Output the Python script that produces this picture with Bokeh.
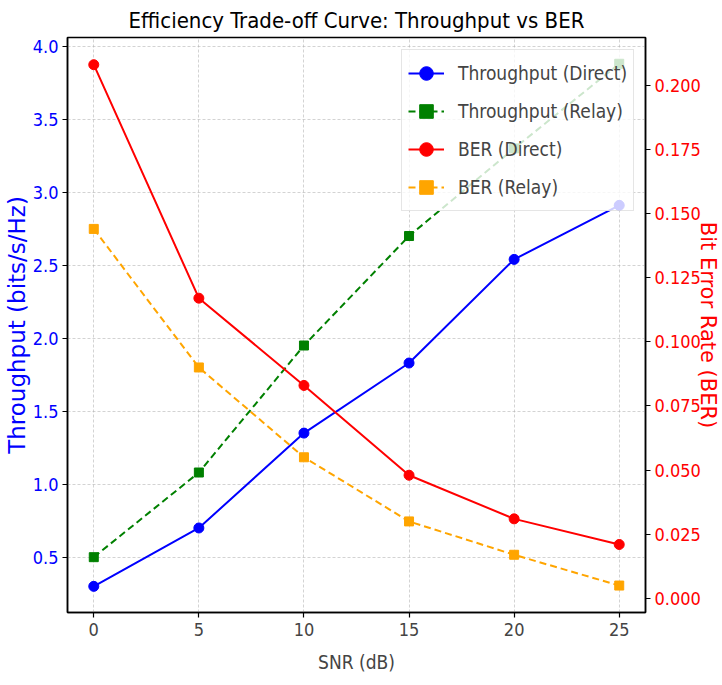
from bokeh.plotting import figure
from bokeh.models import (Range1d, LinearAxis, FixedTicker, NumeralTickFormatter,
                          Legend, LegendItem)
from bokeh.embed import file_html
from bokeh.resources import INLINE

snr = [0, 5, 10, 15, 20, 25]
thr_direct = [0.30, 0.70, 1.35, 1.83, 2.54, 2.91]
thr_relay = [0.50, 1.08, 1.95, 2.70, 3.30, 3.88]
ber_direct = [0.208, 0.117, 0.083, 0.048, 0.031, 0.021]
ber_relay = [0.144, 0.090, 0.055, 0.030, 0.017, 0.005]

left_ticks = [0.5, 1.0, 1.5, 2.0, 2.5, 3.0, 3.5, 4.0]
right_ticks = [0.0, 0.025, 0.05, 0.075, 0.1, 0.125, 0.15, 0.175, 0.2]
x_ticks = [0, 5, 10, 15, 20, 25]

FONT = "DejaVu Sans Condensed, DejaVu Sans"
VFONT = "DejaVu Sans"

p = figure(width=722, height=685, output_backend="svg", toolbar_location=None,
           x_range=Range1d(-1.25, 26.25), y_range=Range1d(0.121, 4.06),
           min_border_left=67, min_border_right=76, min_border_top=37, min_border_bottom=73)

p.title.text = "Efficiency Trade-off Curve: Throughput vs BER"
p.title.align = "center"
p.title.offset = -9
p.title.text_font = FONT
p.title.text_font_size = "22px"
p.title.text_font_style = "normal"
p.title.text_color = "black"

p.extra_y_ranges = {"ber": Range1d(-0.0055, 0.2186)}

p.outline_line_color = "black"
p.outline_line_width = 1.5
p.outline_line_alpha = 1.0

# Left axis
yax = p.yaxis[0]
yax.ticker = FixedTicker(ticks=left_ticks)
yax.formatter = NumeralTickFormatter(format="0.0")
yax.axis_label = "Throughput (bits/s/Hz)"
yax.axis_label_text_color = "blue"
yax.axis_label_text_font = VFONT
yax.axis_label_text_font_size = "23px"
yax.axis_label_text_font_style = "normal"
yax.axis_label_standoff = 0
yax.major_label_text_color = "blue"
yax.major_label_text_font = FONT
yax.major_label_text_font_size = "18px"
yax.major_label_standoff = 4

# X axis
xax = p.xaxis[0]
xax.ticker = FixedTicker(ticks=x_ticks)
xax.axis_label = "SNR (dB)"
xax.axis_label_text_font = FONT
xax.axis_label_text_font_size = "19px"
xax.axis_label_text_font_style = "normal"
xax.axis_label_standoff = 12
xax.major_label_text_font = FONT
xax.major_label_text_font_size = "18px"
xax.major_label_standoff = 5

# Right axis
rax = LinearAxis(y_range_name="ber")
rax.ticker = FixedTicker(ticks=right_ticks)
rax.formatter = NumeralTickFormatter(format="0.000")
rax.axis_label = "Bit Error Rate (BER)"
rax.axis_label_text_color = "red"
rax.axis_label_text_font = VFONT
rax.axis_label_text_font_size = "21px"
rax.axis_label_text_font_style = "normal"
rax.axis_label_standoff = -8
rax.major_label_text_color = "red"
rax.major_label_text_font = FONT
rax.major_label_text_font_size = "18px"
rax.major_label_standoff = 4
p.add_layout(rax, "right")

for ax in [yax, xax, rax]:
    ax.major_tick_out = 5
    ax.major_tick_in = 0
    ax.minor_tick_out = 0
    ax.minor_tick_in = 0
    ax.axis_line_color = "black"
    ax.axis_line_width = 1.5
    ax.major_tick_line_color = "black"
    ax.major_tick_line_width = 1.2

# Grid
p.xgrid.ticker = FixedTicker(ticks=x_ticks)
p.ygrid.ticker = FixedTicker(ticks=left_ticks)
for g in [p.xgrid[0], p.ygrid[0]]:
    g.grid_line_color = "#b0b0b0"
    g.grid_line_alpha = 0.7
    g.grid_line_dash = "3 2"
    g.grid_line_width = 0.8

# Series
l1 = p.line(snr, thr_direct, line_color="blue", line_width=2)
s1 = p.scatter(snr, thr_direct, marker="circle", size=10, color="blue")
l2 = p.line(snr, thr_relay, line_color="green", line_width=2, line_dash="7 4")
s2 = p.scatter(snr, thr_relay, marker="square", size=9, color="green")
l3 = p.line(snr, ber_direct, line_color="red", line_width=2, y_range_name="ber")
s3 = p.scatter(snr, ber_direct, marker="circle", size=10, color="red", y_range_name="ber")
l4 = p.line(snr, ber_relay, line_color="orange", line_width=2, line_dash="7 4", y_range_name="ber")
s4 = p.scatter(snr, ber_relay, marker="square", size=9, color="orange", y_range_name="ber")

legend = Legend(items=[
    LegendItem(label="Throughput (Direct)", renderers=[l1, s1]),
    LegendItem(label="Throughput (Relay)", renderers=[l2, s2]),
    LegendItem(label="BER (Direct)", renderers=[l3, s3]),
    LegendItem(label="BER (Relay)", renderers=[l4, s4]),
], location=(334, 401))
legend.margin = 0
legend.padding = 6
legend.spacing = 4
legend.label_text_font = FONT
legend.label_text_font_size = "19px"
legend.label_height = 34
legend.glyph_height = 34
legend.glyph_width = 36
legend.label_standoff = 14
legend.border_line_color = "#cccccc"
legend.border_line_width = 1
legend.background_fill_color = "white"
legend.background_fill_alpha = 0.8
p.add_layout(legend)

open("out.html", "w").write(file_html(p, INLINE))
